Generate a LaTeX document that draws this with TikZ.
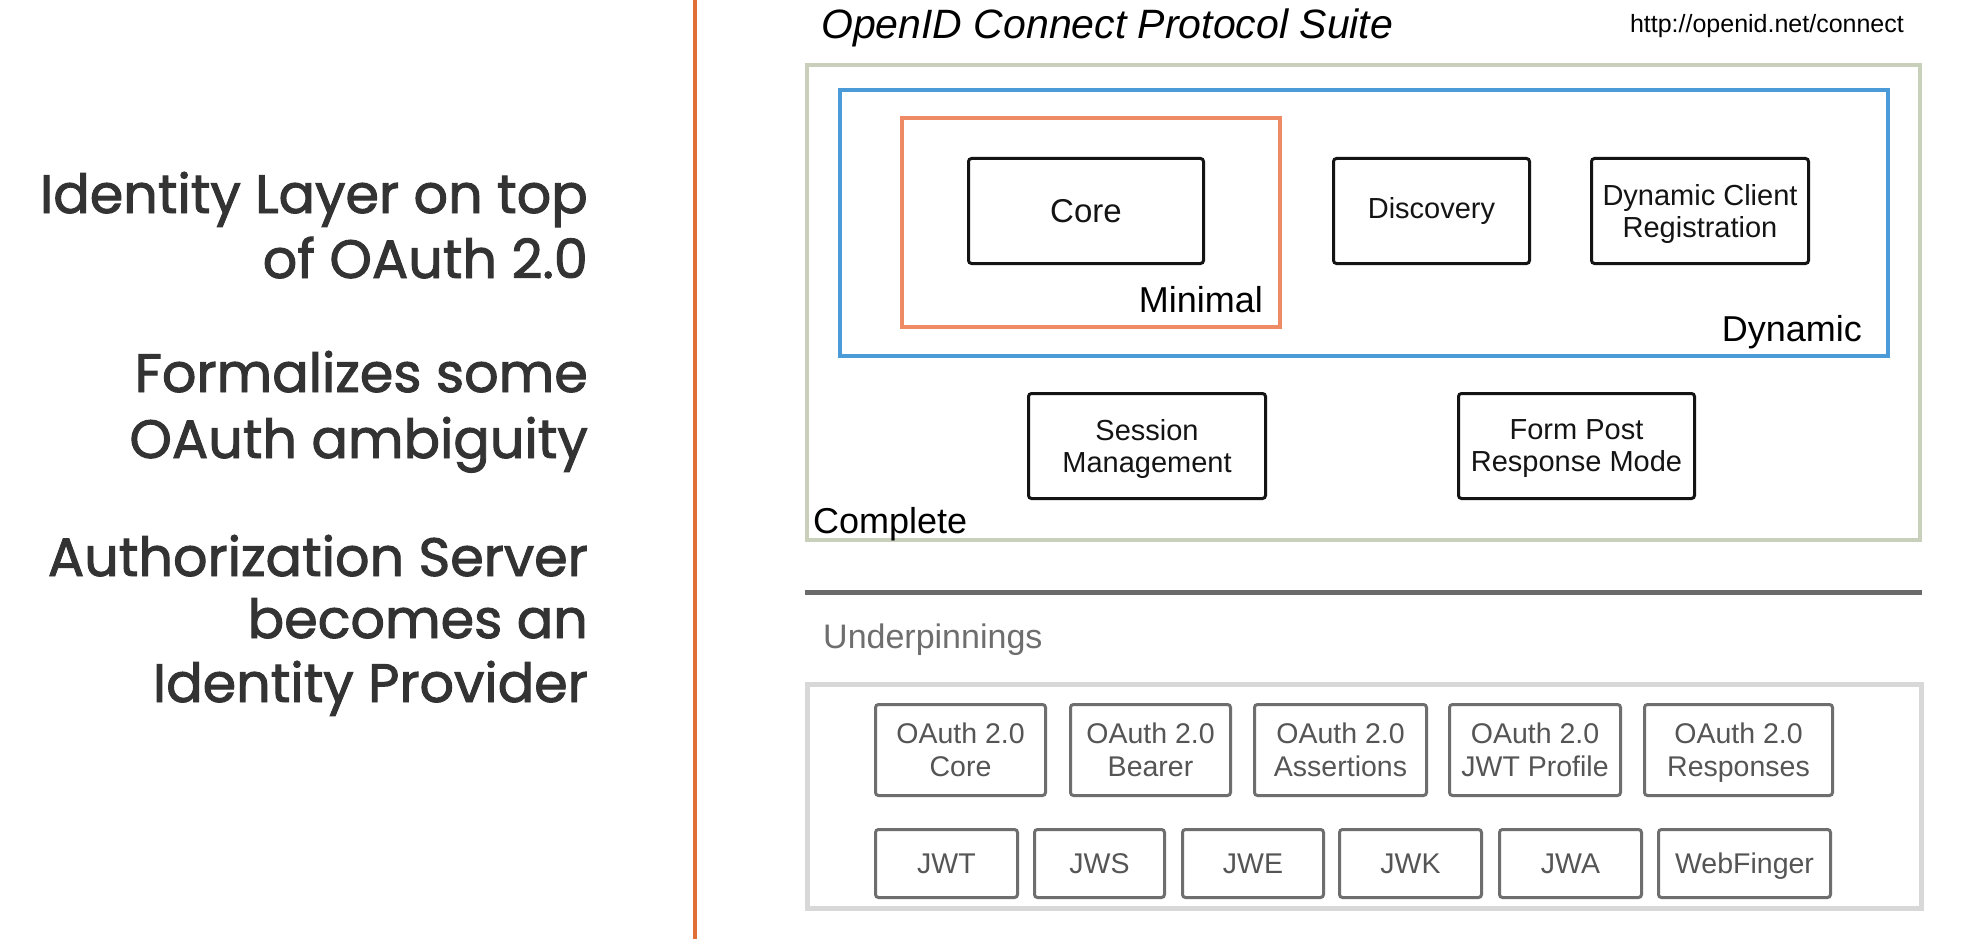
\documentclass[tikz,border=0pt]{standalone}
\usepackage{fontspec}
\setmainfont{Liberation Sans}
\newfontfamily\lft{Poppins}[FakeBold=1.8]
\definecolor{vline}{HTML}{E07038}
\definecolor{cgreen}{HTML}{C8CFBB}
\definecolor{cblue}{HTML}{4A9BD8}
\definecolor{corange}{HTML}{EE8A64}
\definecolor{upframe}{HTML}{D8D8D8}
\definecolor{upgray}{HTML}{6E6E6E}
\definecolor{uptext}{HTML}{555555}
\definecolor{sepgray}{HTML}{6A6A6A}
\definecolor{lefttext}{HTML}{333333}
\begin{document}
\begin{tikzpicture}[x=1pt,y=-1pt,
  lefttxt/.style={anchor=base east,inner sep=0pt,text=lefttext,font=\lft\fontsize{54}{64}\selectfont},
  frame/.style={draw,inner sep=0pt,line width=4pt},
  blk/.style={draw=black!92,line width=3pt,rounded corners=3pt,minimum height=105pt,
    align=center,inner sep=0pt,font=\fontsize{29}{32}\selectfont,text=black!92},
  upbox/.style={draw=upgray,line width=3pt,rounded corners=3pt,align=center,inner sep=0pt,
    text=uptext,font=\fontsize{28.5}{33}\selectfont},
  rowA/.style={upbox,minimum height=91pt},
  rowB/.style={upbox,minimum height=68pt},
  lbl/.style={inner sep=0pt,font=\fontsize{36}{40}\selectfont}
]
\useasboundingbox (0,0) rectangle (1963,939);
\fill[white] (0,0) rectangle (1963,939);

% vertical divider
\coordinate (vtop) at (695,0);
\coordinate (vbot) at (695,939);
\draw[vline,line width=4pt] (vtop) -- (vbot);

% left text
\node[lefttxt] (l1) at (588,213) {Identity Layer on top};
\node[lefttxt] (l2) at (588,278) {of OAuth 2.0};
\node[lefttxt] (l3) at (588,392) {Formalizes some};
\node[lefttxt] (l4) at (588,458) {OAuth ambiguity};
\node[lefttxt] (l5) at (588,576) {Authorization Server};
\node[lefttxt] (l6) at (588,638) {becomes an};
\node[lefttxt] (l7) at (588,702) {Identity Provider};

% title
\node[anchor=base west,inner sep=0pt,font=\itshape\fontsize{41}{45}\selectfont] (title) at (821,39) {OpenID Connect Protocol Suite};
\node[anchor=base east,inner sep=0pt,font=\fontsize{25}{28}\selectfont] (url) at (1904,33) {http://openid.net/connect};

% frames
\node[frame,draw=cgreen,minimum width=1113pt,minimum height=475pt] (complete) at (1363.5,302.5) {};
\node[frame,draw=cblue,minimum width=1048pt,minimum height=266pt] (dynamic) at (1364,223) {};
\node[frame,draw=corange,minimum width=378pt,minimum height=209pt] (minimal) at (1091,222.5) {};

% boxes
\node[blk,minimum width=235pt,font=\fontsize{33}{36}\selectfont] (core) at (1086,211) {Core};
\node[blk,minimum width=196pt] (disc) at (1431.5,211) {Discovery};
\node[blk,minimum width=217pt,text depth=0pt] (dcr) at (1700,211) {Dynamic Client\\Registration};
\node[blk,minimum width=237pt,text depth=0pt] (sess) at (1147,446) {Session\\Management};
\node[blk,minimum width=236pt,text depth=0pt] (form) at (1576.5,446) {Form Post\\Response Mode};

% frame labels
\node[lbl,anchor=base east] (minlbl) at (1263,312) {Minimal};
\node[lbl,anchor=base east] (dynlbl) at (1862,341) {Dynamic};
\node[lbl,anchor=base west] (complbl) at (813,533) {Complete};

% separator
\coordinate (sepL) at (805,592);
\coordinate (sepR) at (1922,592);
\draw[sepgray,line width=5pt] (sepL) -- (sepR);

% underpinnings
\node[anchor=base west,inner sep=0pt,text=upgray,font=\fontsize{34}{38}\selectfont] (uplbl) at (823,648) {Underpinnings};
\node[draw=upframe,line width=5pt,inner sep=0pt,minimum width=1114pt,minimum height=224pt] (upframe) at (1364.5,796.5) {};

\node[rowA,minimum width=170pt] (oacore) at (960.5,750) {OAuth 2.0\\Core};
\node[rowA,minimum width=160pt] (oabearer) at (1150.5,750) {OAuth 2.0\\Bearer};
\node[rowA,minimum width=172pt] (oaassert) at (1340.5,750) {OAuth 2.0\\Assertions};
\node[rowA,minimum width=171pt] (oajwt) at (1535,750) {OAuth 2.0\\JWT Profile};
\node[rowA,minimum width=188pt,text depth=0pt] (oaresp) at (1738.5,750) {OAuth 2.0\\Responses};

\node[rowB,minimum width=142pt] (jwt) at (946.5,863.5) {JWT};
\node[rowB,minimum width=130pt] (jws) at (1099.5,863.5) {JWS};
\node[rowB,minimum width=141pt] (jwe) at (1253,863.5) {JWE};
\node[rowB,minimum width=142pt] (jwk) at (1410.5,863.5) {JWK};
\node[rowB,minimum width=142pt] (jwa) at (1570.5,863.5) {JWA};
\node[rowB,minimum width=172pt,text depth=0pt] (webf) at (1744.5,863.5) {WebFinger};
\end{tikzpicture}
\end{document}
